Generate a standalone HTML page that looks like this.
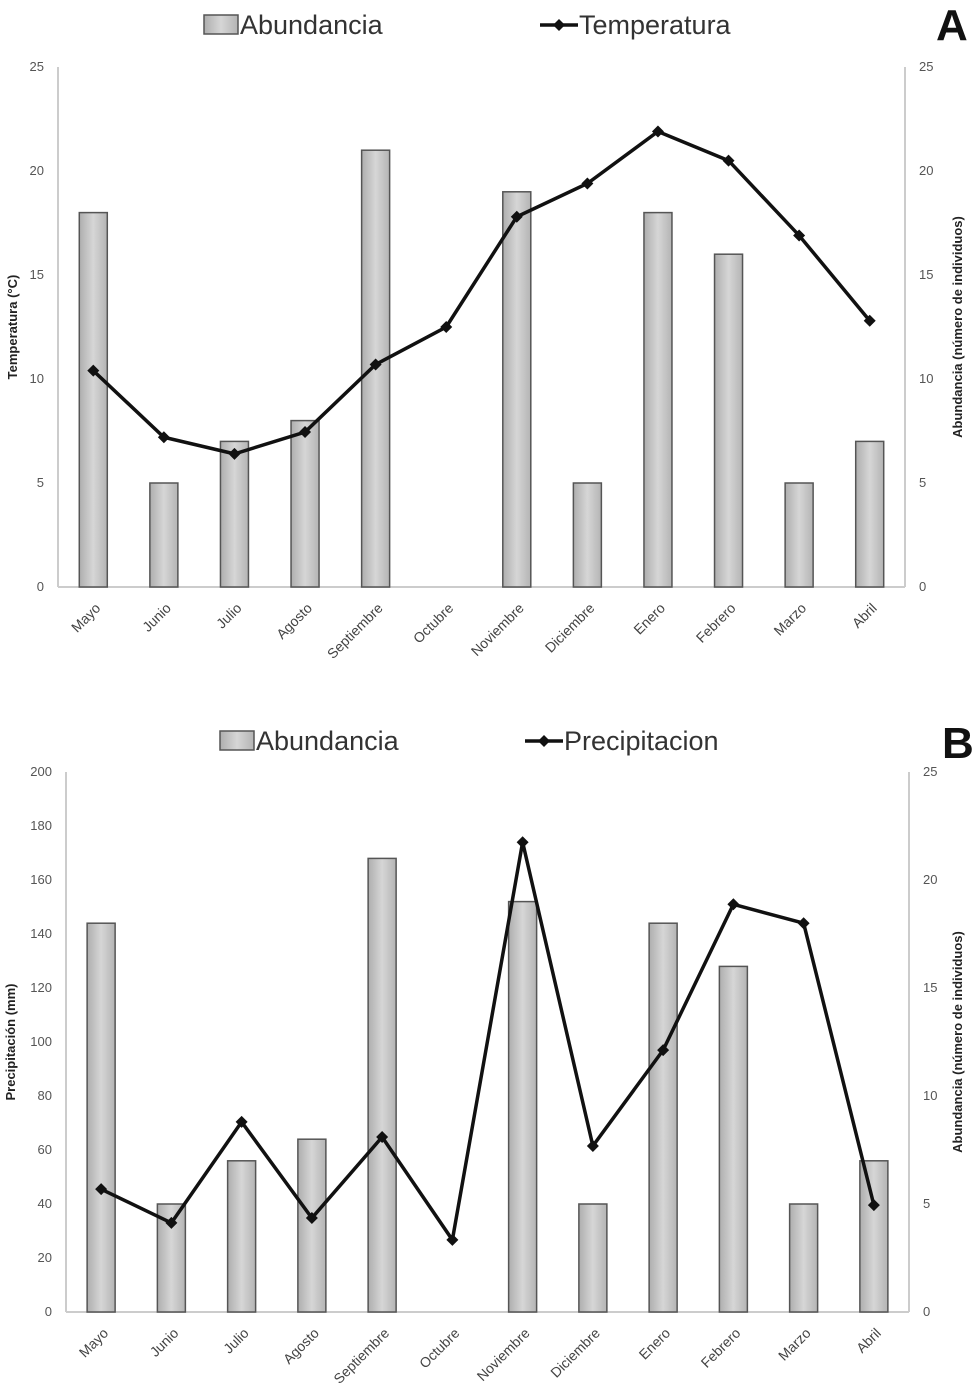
<!DOCTYPE html>
<html><head><meta charset="utf-8"><style>
body{margin:0;background:#fff;}
svg{display:block;font-family:"Liberation Sans",sans-serif;}
.tick{font-size:13px;fill:#555;}
.xl{font-size:14px;fill:#444;}
.leg{font-size:27px;fill:#333;}
.at{font-size:13px;font-weight:bold;fill:#222;}
</style></head><body>
<svg id="c" width="973" height="1396">
<defs><linearGradient id="g" x1="0" x2="1"><stop offset="0" stop-color="#aeaeae"/><stop offset="0.5" stop-color="#d6d6d6"/><stop offset="1" stop-color="#b4b4b4"/></linearGradient></defs>
</svg>
<script>
const months=["Mayo","Junio","Julio","Agosto","Septiembre","Octubre","Noviembre","Diciembre","Enero","Febrero","Marzo","Abril"];
const abundance=[18,5,7,8,21,0,19,5,18,16,5,7];
const temperature=[10.4,7.2,6.4,7.45,10.7,12.5,17.8,19.4,21.9,20.5,16.9,12.8];
const precipitation=[45.5,33,70.4,34.8,64.8,26.7,174,61.5,97,151,144,39.6];
const ticksA=[0,5,10,15,20,25];
const ticksPrec=[0,20,40,60,80,100,120,140,160,180,200];
const ticksAbund=[0,5,10,15,20,25];
const svg=document.getElementById('c');
const NS="http://www.w3.org/2000/svg";
function mk(t,a,txt){const e=document.createElementNS(NS,t);for(const k in a)e.setAttribute(k,a[k]);if(txt!==undefined)e.textContent=txt;svg.appendChild(e);return e;}
function panel(o){
  const y=v=>o.y0-(v/o.lmax)*(o.y0-o.y1);
  const yr=v=>o.y0-(v/25)*(o.y0-o.y1);
  const step=(o.x1-o.x0)/months.length;
  const xc=i=>o.x0+step*(i+0.5);
  let e=mk('line',{x1:o.x0,y1:o.y1,x2:o.x0,y2:o.y0,stroke:'#ccc','stroke-width':2});
  
  e=mk('line',{x1:o.x1,y1:o.y1,x2:o.x1,y2:o.y0,stroke:'#ccc','stroke-width':2});
  
  e=mk('line',{x1:o.x0,y1:o.y0,x2:o.x1,y2:o.y0,stroke:'#ccc','stroke-width':2});
  
  o.lt.forEach(t=>{e=mk('text',{x:o.x0-14,y:y(t)+4,'text-anchor':'end',class:'tick'},t);
    });
  ticksAbund.forEach(t=>{e=mk('text',{x:o.x1+14,y:yr(t)+4,class:'tick'},t);
    });
  abundance.forEach((v,i)=>{if(v<=0)return;e=mk('rect',{x:xc(i)-14,y:yr(v),width:28,height:o.y0-yr(v),fill:'url(#g)',stroke:'#555','stroke-width':1.5});
    });
  e=mk('polyline',{points:o.line.map((v,i)=>xc(i)+','+y(v)).join(' '),fill:'none',stroke:'#111','stroke-width':3.5});
  
  o.line.forEach((v,i)=>{const X=xc(i),Y=y(v);e=mk('polygon',{points:`${X},${Y-6} ${X+6},${Y} ${X},${Y+6} ${X-6},${Y}`,fill:'#111'});
    });
  months.forEach((m,i)=>{const X=xc(i)+8,Y=o.y0+22;e=mk('text',{x:X,y:Y,'text-anchor':'end',class:'xl',transform:`rotate(-45 ${X} ${Y})`},m);
    });
  e=mk('text',{x:0,y:0,'text-anchor':'middle',class:'at',transform:`translate(${o.lx},${(o.y0+o.y1)/2}) rotate(-90)`},o.ltitle);
  
  e=mk('text',{x:0,y:0,'text-anchor':'middle',class:'at',transform:`translate(${o.rx},${(o.y0+o.y1)/2}) rotate(-90)`},'Abundancia (número de individuos)');
  
  e=mk('rect',{x:o.lg1,y:o.ly-10,width:34,height:19,fill:'url(#g)',stroke:'#555','stroke-width':1.5});
  
  e=mk('text',{x:o.lg1+36,y:o.ly+9,class:'leg'},'Abundancia');
  
  e=mk('line',{x1:o.lg2,y1:o.ly,x2:o.lg2+38,y2:o.ly,stroke:'#111','stroke-width':3.5});
  
  const X=o.lg2+19;e=mk('polygon',{points:`${X},${o.ly-6} ${X+6},${o.ly} ${X},${o.ly+6} ${X-6},${o.ly}`,fill:'#111'});
  
  e=mk('text',{x:o.lg2+39,y:o.ly+9,class:'leg'},o.lname);
  
  e=mk('text',{x:o.letX,y:o.letY,style:'font-size:44px;font-weight:bold;fill:#111'},o.letter);
  
}
panel({p:'a',x0:58,x1:905,y0:587,y1:67,lmax:25,lt:ticksA,line:temperature,lx:17,rx:962,ltitle:'Temperatura (°C)',lg1:204,lg2:540,ly:25,lname:'Temperatura',letter:'A',letX:936,letY:40});
panel({p:'b',x0:66,x1:909,y0:1312,y1:772,lmax:200,lt:ticksPrec,line:precipitation,lx:15,rx:962,ltitle:'Precipitación (mm)',lg1:220,lg2:525,ly:741,lname:'Precipitacion',letter:'B',letX:942,letY:758});
</script>
</body></html>
